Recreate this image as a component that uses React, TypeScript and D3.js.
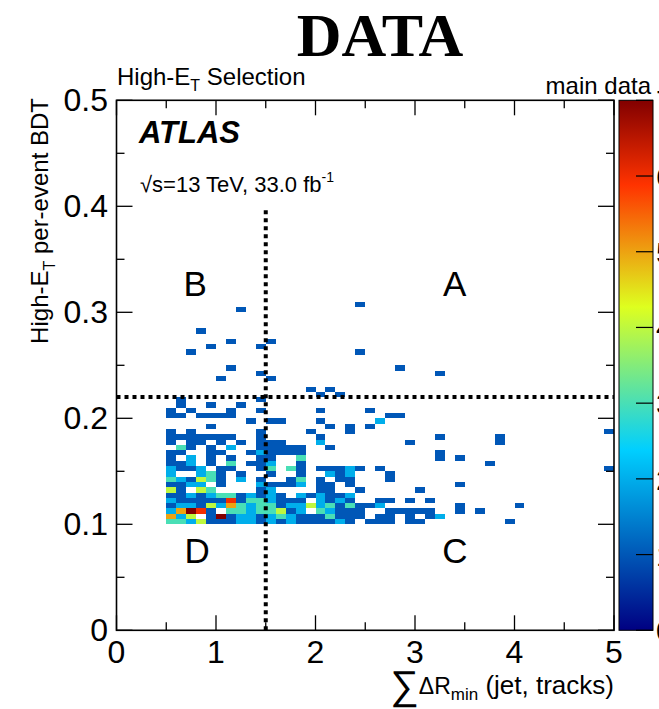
import React from 'react'
import * as d3 from 'd3'

const W = 659
const H = 709

// 2D histogram bins: x from 0.5 in steps of 0.1 (45 columns), y from 0.1 in steps of 0.005
const xStart = 0.5
const xStep = 0.1
const yStart = 0.1
const yStep = 0.005
// entries per bin, top row (y = 0.305) first, bottom row (y = 0.100) last
// '.' = empty bin; the spaces only group the columns by five
const binRows = [
  '..... ..... ..... ....1 ..... ..... ..... ..... .....',
  '..... ..1.. ..... ..... ..... ..... ..... ..... .....',
  '..... ..... ..... ..... ..... ..... ..... ..... .....',
  '..... ..... ..... ..... ..... ..... ..... ..... .....',
  '..... ..... ..... ..... ..... ..... ..... ..... .....',
  '...1. ..... ..... ..... ..... ..... ..... ..... .....',
  '..... ..... ..... ..... ..... ..... ..... ..... .....',
  '..... .1... 1.... ..... ..... ..... ..... ..... .....',
  '....1 ....1 ..... ..... ..... ..... ..... ..... .....',
  '..1.. ..... ..... ....1 ..... ..... ..... ..... .....',
  '..... ..... ..... ..... ..... ..... ..... ..... .....',
  '..... ..... ..... ..... ..... ..... ..... ..... .....',
  '..... .1... ..... ..... ...1. ..... ..... ..... .....',
  '..... ....1 ..... ..... ..... ..1.. ..... ..... .....',
  '..... 1.... 1.... ..... ..... ..... ..... ..... .....',
  '..... ..... ..... ..... ..... ..... ..... ..... .....',
  '..... ..... ....1 .1... ..... ..... ..... ..... .....',
  '..... ..... ..... 1.1.. ..... ..... ..... ..... .....',
  '.1... ....1 ..... ..... ..... ..... ..... ..... .....',
  '.1..1 ..1.. ..... ..... ..... ..... ..... ..... .....',
  '1.1.. .1..1 ..... 1.... 1.... ..... ..... ..... .....',
  '11.11 11... ..... ..... ..11. ..... ..... ..... .....',
  '..... ...1. 11... 1.... .2... ..... ..... ..... .....',
  '....1 ..... ..... .1.1. 1.... ..... ..... ..... .....',
  '1.1.. ....1 ....1 ...1. ..... ..... ..... ..... ....1',
  '11111 11..1 ..... 1.... ..... ..1.. ...1. ..... .....',
  '1.11. 1.1.1 11... 2.... ....1 ..... ...1. ..... .....',
  '.31.1 .2..1 1111. .1... ..... ..... ..... ..... .....',
  '11..1 1..12 1111. ..... ..... ..1.. ..... ..... .....',
  '1.2.1 .1..1 1..3. ..... ..... ..1.1 ..... ..... .....',
  '112.1 .3.11 2..1. ..... ..... ..... ..1.. ..... .....',
  '2112. 11..1 3.31. 11121 .1... ..... ..... ..... ....1',
  '2..23 1.1.. 1..1. .212. ..1.. ..... ..... ..... .....',
  '32143 1.2.1 ..13. 1.11. ..1.. ..... ..... ..... .....',
  '1122. 1...2 1112. 11.1. ..... ....1 ..... ..... .....',
  '41.43 ....1 2.... 11..1 ..... 1.... ..... ..... .....',
  '11212 33121 21.21 2112. ..... ..... ..... ..... .....',
  '21111 16133 2111. 2121. .11.1 .1... ..... ..... .....',
  '12214 25323 31224 23131 12... ....1 ..... 1.... .....',
  '25761 .3323 3412. 32111 ..111 11..1 .1... ..... .....',
  '524.1 71221 23211 13111 .11.1 .12.. ..... ..... .....',
  '33241 11221 21211 1121. 111.1 1.... ....1 ..... .....',
]

// colour axis
const zMax = 7
const zTicks = [0, 1, 2, 3, 4, 5, 6, 7]
const paletteStops = [0, 0.34, 0.61, 0.84, 1]
const paletteColors = ['#000082', '#00cfff', '#deff1f', '#ff3300', '#820000']

// axes
const xTicks = [0, 1, 2, 3, 4, 5]
const xMinor = [0.5, 1.5, 2.5, 3.5, 4.5]
const yTicks = [0, 0.1, 0.2, 0.3, 0.4, 0.5]
const yMinor = [0.05, 0.15, 0.25, 0.35, 0.45]
const yTickLabels = ['0', '0.1', '0.2', '0.3', '0.4', '0.5']

// ABCD cuts
const xCut = 1.5
const yCut = 0.22
const xCutTop = 0.4
const regionLabels = [
  { t: 'B', x: 0.79, y: 0.328 },
  { t: 'A', x: 3.4, y: 0.328 },
  { t: 'D', x: 0.81, y: 0.076 },
  { t: 'C', x: 3.4, y: 0.076 },
]

const sans = 'Liberation Sans, Arial, Helvetica, sans-serif'

export default function App() {
  const x = d3.scaleLinear().domain([0, 5]).range([116.5, 614])
  const y = d3.scaleLinear().domain([0, 0.5]).range([630.3, 100.3])
  const color = d3
    .scaleLinear<string>()
    .domain(paletteStops.map((s) => s * zMax))
    .range(paletteColors)
    .interpolate(d3.interpolateRgb)
  const z = d3.scaleLinear().domain([0, zMax]).range([630.3, 100.3])

  const nRows = binRows.length
  const cells: { x0: number; y0: number; n: number }[] = []
  binRows.forEach((row, i) => {
    const r = nRows - 1 - i
    row
      .replace(/ /g, '')
      .split('')
      .forEach((ch, c) => {
        const n = ch === '.' ? 0 : +ch
        if (n > 0) cells.push({ x0: xStart + c * xStep, y0: yStart + r * yStep, n })
      })
  })

  const [fx0, fx1] = x.range()
  const [fy0, fy1] = y.range()
  const cbX0 = 619
  const cbX1 = 653

  return (
    <svg width={W} height={H} style={{ position: 'absolute', left: 0, top: 0, background: '#fff' }}>
      <defs>
        <linearGradient id="pal" x1="0" y1="1" x2="0" y2="0">
          {paletteStops.map((s, i) => (
            <stop key={i} offset={s} stopColor={paletteColors[i]} />
          ))}
        </linearGradient>
      </defs>

      <text x={380} y={56} textAnchor="middle" fontFamily="Liberation Serif, Times New Roman, serif" fontWeight="bold" fontSize={62}>
        DATA
      </text>

      {/* histogram cells */}
      <g shapeRendering="crispEdges">
        {cells.map((d, i) => (
          <rect
            key={i}
            x={x(d.x0)}
            y={y(d.y0 + yStep)}
            width={x(d.x0 + xStep) - x(d.x0)}
            height={y(d.y0) - y(d.y0 + yStep)}
            fill={color(d.n)}
          />
        ))}
      </g>

      {/* cut lines */}
      <line x1={x(xCut)} x2={x(xCut)} y1={y(0)} y2={y(xCutTop)} stroke="#000" strokeWidth={4} strokeDasharray="4 4" />
      <line x1={x(0)} x2={x(5)} y1={y(yCut)} y2={y(yCut)} stroke="#000" strokeWidth={4} strokeDasharray="4 4" />

      {regionLabels.map((d) => (
        <text key={d.t} x={x(d.x)} y={y(d.y) + 13} textAnchor="middle" fontFamily={sans} fontSize={35}>
          {d.t}
        </text>
      ))}

      {/* frame and ticks */}
      <rect x={fx0} y={fy1} width={fx1 - fx0} height={fy0 - fy1} fill="none" stroke="#000" strokeWidth={1.6} />
      <g stroke="#000" strokeWidth={1.3}>
        {xTicks.map((t) => (
          <g key={'xt' + t}>
            <line x1={x(t)} x2={x(t)} y1={fy0} y2={fy0 - 15} />
            <line x1={x(t)} x2={x(t)} y1={fy1} y2={fy1 + 15} />
          </g>
        ))}
        {xMinor.map((t) => (
          <g key={'xm' + t}>
            <line x1={x(t)} x2={x(t)} y1={fy0} y2={fy0 - 8} />
            <line x1={x(t)} x2={x(t)} y1={fy1} y2={fy1 + 8} />
          </g>
        ))}
        {yTicks.map((t) => (
          <g key={'yt' + t}>
            <line x1={fx0} x2={fx0 + 16} y1={y(t)} y2={y(t)} />
            <line x1={fx1} x2={fx1 - 16} y1={y(t)} y2={y(t)} />
          </g>
        ))}
        {yMinor.map((t) => (
          <g key={'ym' + t}>
            <line x1={fx0} x2={fx0 + 8} y1={y(t)} y2={y(t)} />
            <line x1={fx1} x2={fx1 - 8} y1={y(t)} y2={y(t)} />
          </g>
        ))}
      </g>

      {/* tick labels */}
      <g fontFamily={sans} fontSize={32} fill="#000">
        {xTicks.map((t) => (
          <text key={'xl' + t} x={x(t)} y={fy0 + 33} textAnchor="middle">
            {t}
          </text>
        ))}
        {yTicks.map((t, i) => (
          <text key={'yl' + t} x={108} y={y(t) + 11} textAnchor="end">
            {yTickLabels[i]}
          </text>
        ))}
      </g>

      {/* axis titles */}
      <text x={614} y={694} textAnchor="end" fontFamily={sans} fontSize={26}>
        <tspan fontSize={40} dy={5}>∑</tspan>
        <tspan fontSize={23} dy={-5}>ΔR</tspan>
        <tspan fontSize={17} dy={6}>min</tspan>
        <tspan dy={-6}> (jet, tracks)</tspan>
      </text>
      <text transform="translate(48,98) rotate(-90)" textAnchor="end" fontFamily={sans} fontSize={24}>
        <tspan>High-E</tspan>
        <tspan fontSize={16} dy={7}>T</tspan>
        <tspan dy={-7}> per-event BDT</tspan>
      </text>

      <text x={117} y={85} fontFamily={sans} fontSize={24}>
        <tspan>High-E</tspan>
        <tspan fontSize={16} dy={6}>T</tspan>
        <tspan dy={-6}> Selection</tspan>
      </text>
      <text x={651} y={94} textAnchor="end" fontFamily={sans} fontSize={24}>
        main data
      </text>

      <text x={139} y={143} fontFamily={sans} fontSize={31} fontWeight="bold" fontStyle="italic">
        ATLAS
      </text>
      <text x={140} y={192} fontFamily={sans} fontSize={22}>
        <tspan>√s=13 TeV, 33.0 fb</tspan>
        <tspan fontSize={14} dy={-10}>-1</tspan>
      </text>

      {/* colour bar */}
      <rect x={cbX0} y={z(zMax)} width={cbX1 - cbX0} height={z(0) - z(zMax)} fill="url(#pal)" stroke="#000" strokeWidth={1} />
      <g stroke="#000" strokeWidth={1.2}>
        {zTicks.map((t) => (
          <line key={'zt' + t} x1={cbX1} x2={cbX1 - 17} y1={z(t)} y2={z(t)} />
        ))}
      </g>
      <g fontFamily={sans} fontSize={30}>
        {zTicks.map((t) => (
          <text key={'zl' + t} x={656} y={z(t) + 11}>
            {t}
          </text>
        ))}
      </g>
    </svg>
  )
}
